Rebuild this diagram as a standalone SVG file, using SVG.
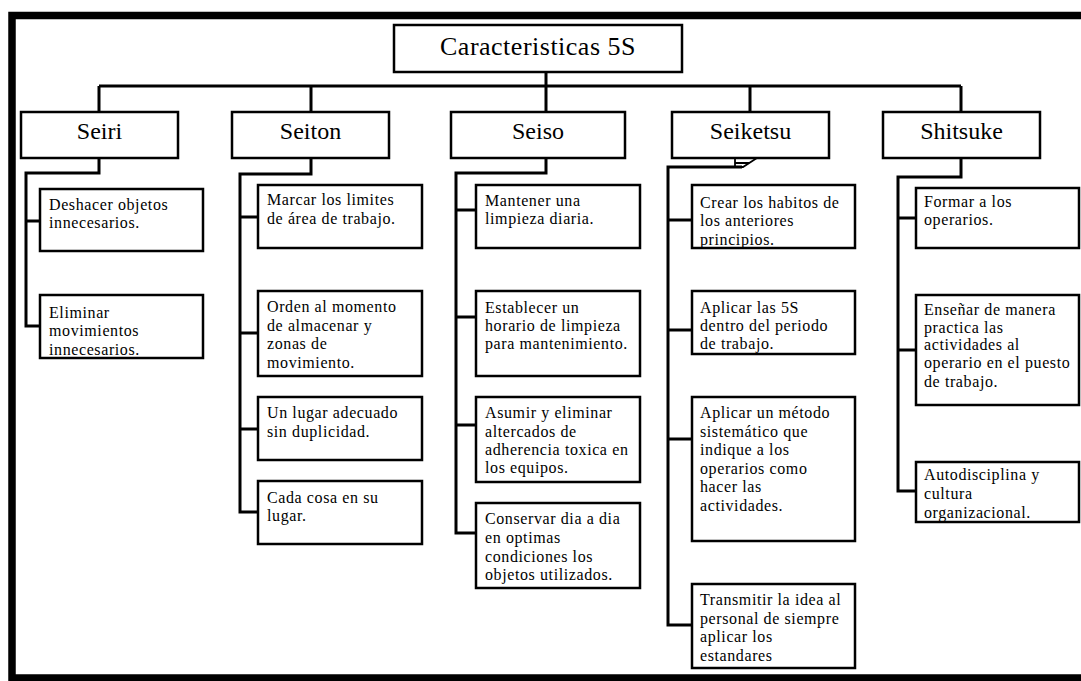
<svg xmlns="http://www.w3.org/2000/svg" width="1081" height="681" viewBox="0 0 1081 681">
<style>
.box{fill:#fff;stroke:#000;stroke-width:2.5}
.conn{fill:none;stroke:#000;stroke-width:3;stroke-linejoin:miter}
.t{font-family:"Liberation Serif","Times New Roman",serif;font-size:16px;letter-spacing:0.6px;fill:#000}
.h{font-family:"Liberation Serif","Times New Roman",serif;font-size:24px;fill:#000;text-anchor:middle}
.title{font-family:"Liberation Serif","Times New Roman",serif;font-size:26px;letter-spacing:0.5px;fill:#000;text-anchor:middle}
</style>
<rect width="1081" height="681" fill="#fff"/>
<path d="M1081,15.5 H12 V678 H1081" fill="none" stroke="#000" stroke-width="7.5"/>

<g id="connectors" class="conn">
<path d="M546,72 V86 M99,86 H961 M99,86 V112 M311,86 V112 M546,86 V112 M750,86 V112 M961,86 V112"/>
<path d="M99,158 V173 H26 V326 H40 M26,221 H40"/>
<path d="M311,158 V174 H240 V512 H258 M240,217 H258 M240,333 H258 M240,429 H258"/>
<path d="M546,158 V173 H456 V533 H476 M456,210 H476 M456,317 H476 M456,425 H476"/>
<path d="M742,167 H668 V625 H692 M668,220 H692 M668,330 H692 M668,439 H692"/>
<path d="M735,158 H757 L743,167 H735 Z M735,163 H750" stroke-width="1.8"/>
<path d="M961,158 V177 H898 V491 H916 M898,218 H916 M898,350 H916"/>
</g>

<g id="title">
<rect class="box" x="394" y="25" width="288" height="47"/>
<text class="title" x="538" y="55">Caracteristicas 5S</text>
</g>

<g id="seiri">
<rect class="box" x="21" y="112" width="157" height="46"/>
<text class="h" x="99.5" y="139">Seiri</text>
</g>
<g id="seiton">
<rect class="box" x="232" y="112" width="157" height="46"/>
<text class="h" x="310.5" y="139">Seiton</text>
</g>
<g id="seiso">
<rect class="box" x="451" y="112" width="174" height="46"/>
<text class="h" x="538" y="139">Seiso</text>
</g>
<g id="seiketsu">
<rect class="box" x="672" y="112" width="157" height="46"/>
<text class="h" x="750.5" y="139">Seiketsu</text>
</g>
<g id="shitsuke">
<rect class="box" x="883" y="112" width="157" height="46"/>
<text class="h" x="961.5" y="139">Shitsuke</text>
</g>

<g id="seiri-1">
<rect class="box" x="40" y="189" width="163" height="62"/>
<text class="t"><tspan x="49" y="210">Deshacer objetos</tspan><tspan x="49" y="228">innecesarios.</tspan></text>
</g>
<g id="seiri-2">
<rect class="box" x="40" y="295" width="163" height="63"/>
<text class="t"><tspan x="49" y="318">Eliminar</tspan><tspan x="49" y="336">movimientos</tspan><tspan x="49" y="355">innecesarios.</tspan></text>
</g>

<g id="seiton-1">
<rect class="box" x="258" y="185" width="164" height="63"/>
<text class="t"><tspan x="267" y="205">Marcar los limites</tspan><tspan x="267" y="224">de área de trabajo.</tspan></text>
</g>
<g id="seiton-2">
<rect class="box" x="258" y="291" width="164" height="85"/>
<text class="t"><tspan x="267" y="312">Orden al momento</tspan><tspan x="267" y="331">de almacenar y</tspan><tspan x="267" y="349">zonas de</tspan><tspan x="267" y="368">movimiento.</tspan></text>
</g>
<g id="seiton-3">
<rect class="box" x="258" y="397" width="164" height="63"/>
<text class="t"><tspan x="267" y="418">Un lugar adecuado</tspan><tspan x="267" y="437">sin duplicidad.</tspan></text>
</g>
<g id="seiton-4">
<rect class="box" x="258" y="481" width="164" height="63"/>
<text class="t"><tspan x="267" y="503">Cada cosa en su</tspan><tspan x="267" y="521">lugar.</tspan></text>
</g>

<g id="seiso-1">
<rect class="box" x="476" y="185" width="164" height="63"/>
<text class="t"><tspan x="485" y="206">Mantener una</tspan><tspan x="485" y="224">limpieza diaria.</tspan></text>
</g>
<g id="seiso-2">
<rect class="box" x="476" y="291" width="164" height="85"/>
<text class="t"><tspan x="485" y="313">Establecer un</tspan><tspan x="485" y="331">horario de limpieza</tspan><tspan x="485" y="349">para mantenimiento.</tspan></text>
</g>
<g id="seiso-3">
<rect class="box" x="476" y="397" width="164" height="85"/>
<text class="t"><tspan x="485" y="418">Asumir y eliminar</tspan><tspan x="485" y="437">altercados de</tspan><tspan x="485" y="455">adherencia toxica en</tspan><tspan x="485" y="473">los equipos.</tspan></text>
</g>
<g id="seiso-4">
<rect class="box" x="476" y="503" width="164" height="85"/>
<text class="t"><tspan x="485" y="524">Conservar dia a dia</tspan><tspan x="485" y="543">en optimas</tspan><tspan x="485" y="562">condiciones los</tspan><tspan x="485" y="580">objetos utilizados.</tspan></text>
</g>

<g id="seiketsu-1">
<rect class="box" x="692" y="185" width="163" height="63"/>
<text class="t"><tspan x="700" y="208">Crear los habitos de</tspan><tspan x="700" y="226">los anteriores</tspan><tspan x="700" y="245">principios.</tspan></text>
</g>
<g id="seiketsu-2">
<rect class="box" x="692" y="291" width="163" height="63"/>
<text class="t"><tspan x="700" y="313">Aplicar las 5S</tspan><tspan x="700" y="331">dentro del periodo</tspan><tspan x="700" y="349">de trabajo.</tspan></text>
</g>
<g id="seiketsu-3">
<rect class="box" x="692" y="397" width="163" height="144"/>
<text class="t"><tspan x="700" y="418">Aplicar un método</tspan><tspan x="700" y="437">sistemático que</tspan><tspan x="700" y="455">indique a los</tspan><tspan x="700" y="474">operarios como</tspan><tspan x="700" y="492">hacer las</tspan><tspan x="700" y="511">actividades.</tspan></text>
</g>
<g id="seiketsu-4">
<rect class="box" x="692" y="584" width="163" height="84"/>
<text class="t"><tspan x="700" y="605">Transmitir la idea al</tspan><tspan x="700" y="624">personal de siempre</tspan><tspan x="700" y="642">aplicar los</tspan><tspan x="700" y="661">estandares</tspan></text>
</g>

<g id="shitsuke-1">
<rect class="box" x="916" y="188" width="163" height="60"/>
<text class="t"><tspan x="924" y="207">Formar a los</tspan><tspan x="924" y="225">operarios.</tspan></text>
</g>
<g id="shitsuke-2">
<rect class="box" x="916" y="295" width="163" height="110"/>
<text class="t"><tspan x="924" y="315">Enseñar de manera</tspan><tspan x="924" y="333">practica las</tspan><tspan x="924" y="350">actividades al</tspan><tspan x="924" y="368">operario en el puesto</tspan><tspan x="924" y="387">de trabajo.</tspan></text>
</g>
<g id="shitsuke-3">
<rect class="box" x="916" y="462" width="163" height="60"/>
<text class="t"><tspan x="924" y="480">Autodisciplina y</tspan><tspan x="924" y="499">cultura</tspan><tspan x="924" y="518">organizacional.</tspan></text>
</g>
</svg>
